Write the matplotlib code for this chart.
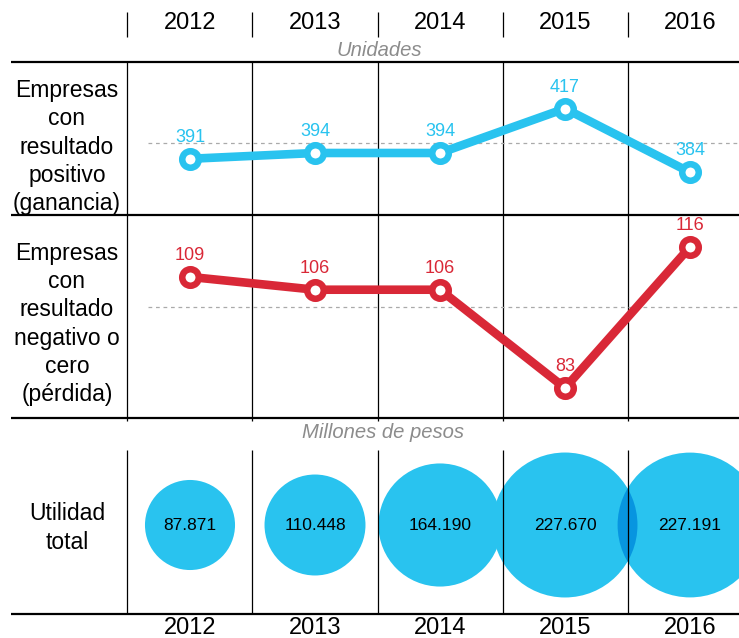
import numpy as np
import matplotlib
matplotlib.use("Agg")
import matplotlib.pyplot as plt
from matplotlib.patches import Circle

plt.rcParams['font.family'] = ['Liberation Sans', 'DejaVu Sans']

# ---------------- data ----------------
years = ['2012', '2013', '2014', '2015', '2016']
positivas = [391, 394, 394, 417, 384]
negativas = [109, 106, 106, 83, 116]
utilidad = [87871, 110448, 164190, 227670, 227191]
row_labels = ['Empresas\ncon\nresultado\npositivo\n(ganancia)',
              'Empresas\ncon\nresultado\nnegativo o\ncero\n(pérdida)',
              'Utilidad\ntotal']
unit_top = 'Unidades'
unit_bottom = 'Millones de pesos'

# ---------------- style ----------------
BLUE = '#29c3ef'
BLUE_DARK = '#0795e0'
RED = '#d92837'
GREY = '#8c8c8c'

W, H = 739, 638
fig = plt.figure(figsize=(W / 100, H / 100), dpi=100)


def rect(x0, y0, x1, y1):
    return [x0 / W, 1 - y1 / H, (x1 - x0) / W, (y1 - y0) / H]


PX = 125.0  # pixels per category
XLIM = (-190 / PX, (W - 190) / PX)
xs = np.arange(len(years))
bounds = xs - 0.5

# background / frame axes (x: category units, y: pixels)
bg = fig.add_axes([0, 0, 1, 1], zorder=0)
bg.set_xlim(XLIM)
bg.set_ylim(H, 0)
bg.axis('off')

for i, y in enumerate(years):
    bg.text(i, 23, y, ha='center', va='center', fontsize=17)
    bg.text(i, 628, y, ha='center', va='center', fontsize=17)

bg.hlines([62, 215, 418, 614], (11 - 190) / PX, XLIM[1], color='black', lw=1.6)
bg.vlines(bounds, 12, 37, color='black', lw=0.9)
bg.vlines(bounds, 62, 421, color='black', lw=0.9)

lab_x = (67 - 190) / PX
LS = 1.28
bg.text(lab_x, 147, row_labels[0], ha='center', va='center', fontsize=16.5, linespacing=LS)
bg.text(lab_x, 324, row_labels[1], ha='center', va='center', fontsize=16.5, linespacing=LS)
bg.text(lab_x, 528, row_labels[2], ha='center', va='center', fontsize=16.5, linespacing=LS)

bg.text((379 - 190) / PX, 50, unit_top, ha='center', va='center', fontsize=14.6,
        style='italic', color=GREY)
bg.text((383 - 190) / PX, 433, unit_bottom, ha='center', va='center', fontsize=14.6,
        style='italic', color=GREY)


def line_row(y0, y1, ylim, values, color, dash_frac):
    ax = fig.add_axes(rect(0, y0, W, y1), zorder=2)
    ax.set_xlim(XLIM)
    ax.set_ylim(*ylim)
    ax.axis('off')
    ax.plot([(148 - 190) / PX, XLIM[1]], [dash_frac, dash_frac],
            transform=ax.get_xaxis_transform(), color='#aaaaaa', lw=0.9,
            dashes=(3, 3), zorder=1)
    ax.plot(xs, values, color=color, lw=6.2, marker='o', ms=11.9,
            mfc='white', mec=color, mew=4.7, zorder=3, solid_capstyle='butt')
    for x, v in zip(xs, values):
        ax.annotate(str(v), (x, v), xytext=(0, 15.5), textcoords='offset points',
                    ha='center', va='center', color=color, fontsize=13)
    return ax


line_row(62, 215, (361.9, 441.1), positivas, BLUE, 0.4706)
line_row(215, 418, (75.97, 123.49), negativas, RED, 0.5468)

# bubble row, equal units in x and y
ax3 = fig.add_axes(rect(0, 440, W, 620), zorder=2)
ax3.set_xlim(XLIM)
ax3.set_ylim(-(620 - 525) / PX, (525 - 440) / PX)
ax3.axis('off')

RSCALE = 0.1519 / PX  # radius per sqrt(value)
circles = []
for x, v in zip(xs, utilidad):
    c = Circle((x, 0), RSCALE * np.sqrt(v), facecolor=BLUE, edgecolor='none', zorder=2)
    ax3.add_patch(c)
    circles.append(c)

# darker overlap (multiply-like) between 2015 and 2016
overlap_pairs = [(3, 4)]
for a, b in overlap_pairs:
    v = utilidad[b]
    oc = Circle((xs[b], 0), RSCALE * np.sqrt(v), facecolor=BLUE_DARK, edgecolor='none', zorder=3)
    ax3.add_patch(oc)
    oc.set_clip_path(circles[a])

for x, v in zip(xs, utilidad):
    ax3.text(x, 0, f'{v:,}'.replace(',', '.'), ha='center', va='center',
             fontsize=12.5, zorder=6)

ax3.vlines(bounds, -(614 - 525) / PX, (525 - 450) / PX, color='black', lw=0.9, zorder=5)

fig.savefig('out.png', dpi=100)
